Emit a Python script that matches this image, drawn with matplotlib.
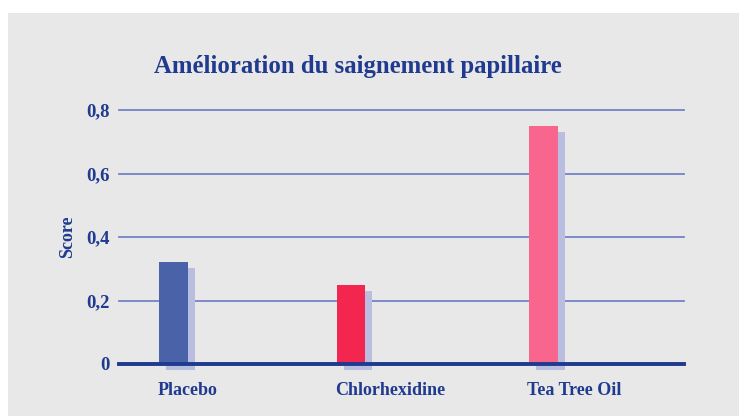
import matplotlib.pyplot as plt
import matplotlib.transforms as mtransforms

categories = ["Placebo", "Chlorhexidine", "Tea Tree Oil"]
scores = [0.32, 0.25, 0.75]
yticks = [0, 0.2, 0.4, 0.6, 0.8]
ytick_labels = ["0", "0,2", "0,4", "0,6", "0,8"]

bar_colors = ["#4a62a8", "#f2264f", "#f8668d"]
shadow_color = "#b9bde0"
navy = "#1f3a8f"
grid_color = "#7384c4"
bg = "#e8e8e8"

plt.rcParams['font.family'] = ['Liberation Serif', 'DejaVu Serif']

fig = plt.figure(figsize=(7.39, 4.16), dpi=100)
fig.patch.set_facecolor("white")
# gray panel behind everything
fig.patches.append(plt.Rectangle((8 / 739, 0), 1, (416 - 13) / 416,
                                 transform=fig.transFigure, facecolor=bg,
                                 edgecolor="none", zorder=-10))

ax = fig.add_axes([119 / 739, 52 / 416, 565 / 739, 254 / 416])
ax.set_facecolor("none")

pos = [0, 1, 2.085]
w = 0.163
ax.set_xlim(-0.307, 2.876)
ax.set_ylim(0, 0.8)

# gridlines
for t in yticks[1:]:
    ax.axhline(t, color=grid_color, lw=1.3, zorder=1, clip_on=False)
ax.axhline(0, color=navy, lw=2.8, zorder=4, clip_on=False)

# shadow bars offset right/down
shift = mtransforms.ScaledTranslation(7 / 100, -6 / 100, fig.dpi_scale_trans)
ax.bar(pos, scores, width=w, color=shadow_color, zorder=2, clip_on=False,
       transform=ax.transData + shift)
ax.bar(pos, scores, width=w, color=bar_colors, zorder=3, clip_on=False)

for s in ax.spines.values():
    s.set_visible(False)

ax.set_yticks(yticks)
ax.set_yticklabels(ytick_labels, fontsize=13.5, fontweight="bold", color=navy)
ax.tick_params(axis="y", length=0, pad=7)

ax.set_xticks([p - w / 2 - 0.01 for p in pos])
ax.set_xticklabels(categories, fontsize=13, fontweight="bold", color=navy, ha="left")
ax.tick_params(axis="x", length=0, pad=13)

ax.set_ylabel("Score", fontsize=13, fontweight="bold", color=navy, labelpad=7)

fig.text(358 / 739, 1 - 66 / 416, "Amélioration du saignement papillaire",
         fontsize=17.8, fontweight="bold", color=navy, ha="center", va="center")

fig.savefig("out.png", dpi=100)
